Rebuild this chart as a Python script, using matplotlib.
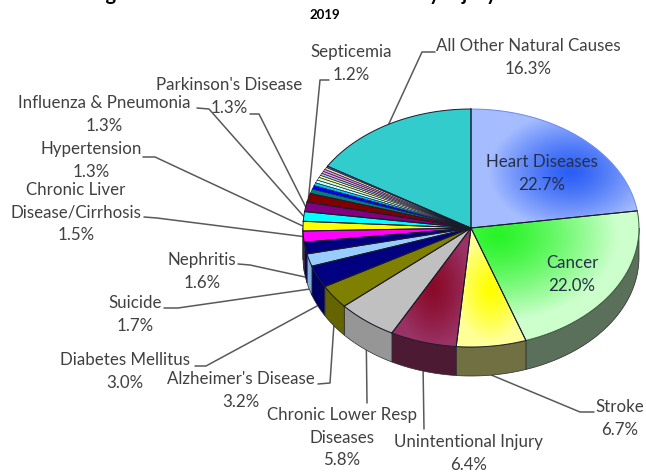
# Leading causes of death, 2019 - 3D style pie
import numpy as np
import matplotlib
matplotlib.use('Agg')
import matplotlib.pyplot as plt
from matplotlib.colors import to_rgb
from matplotlib.patches import Polygon

plt.rcParams['font.family'] = ['Lato', 'DejaVu Sans']

# values in percent, clockwise from 12 o'clock
causes = ['Heart Diseases', 'Cancer', 'Stroke', 'Unintentional Injury',
          'Chronic Lower Resp\nDiseases', "Alzheimer's Disease", 'Diabetes Mellitus',
          'Suicide', 'Nephritis', 'Chronic Liver\nDisease/Cirrhosis', 'Hypertension',
          'Influenza & Pneumonia', "Parkinson's Disease", 'Septicemia']
values = [22.7, 22.0, 6.7, 6.4, 5.8, 3.2, 3.0, 1.7, 1.6, 1.5, 1.3, 1.3, 1.3, 1.2]
small_values = [0.6, 0.5, 0.4, 0.4, 0.4, 0.3, 0.3, 0.3, 0.3, 0.3, 0.2]
other_name = 'All Other Natural Causes'
other_value = 16.3

colors = ['#a5bcff', '#ccffcc', '#ffff99', '#993366', '#c0c0c0', '#808000', '#000080',
          '#99ccff', '#000080', '#ff00ff', '#ffff00', '#00ffff', '#800080', '#800000']
small_colors = ['#008080', '#0000ff', '#00ccff', '#ccffff', '#ccffcc', '#ffff99',
                '#99ccff', '#ff99cc', '#cc99ff', '#ffcc99', '#3366ff']
other_color = '#33cccc'

# pie geometry, in pixels of the 646x474 canvas
CX, CY, RX, RY, DEPTH = 471, 228, 168, 119, 29

# gradient slices: centre colour, centre x, y, half width, half height
gradients = {0: ('#2a5ef5', 570, 172, 82, 58),
             1: ('#28f428', 497, 236, 120, 85),
             2: ('#ffff00', 490, 290, 36, 52),
             3: ('#8a0a28', 433, 288, 38, 58)}
wall_shade = {0: 0.45, 1: 0.44, 2: 0.44, 3: 0.5, 7: 0.85}
arc_color = {0: '#6d8cf5', 1: '#3c5a3c'}

# label centre x, first line y, leader elbow points
layout = {
    'Heart Diseases': (542, 162, None),
    'Cancer': (572, 263, None),
    'Stroke': (620, 407, ((594, 412), (580, 412))),
    'Unintentional Injury': (469, 442, ((424, 429),)),
    'Chronic Lower Resp\nDiseases': (342, 415, ((367, 403),)),
    "Alzheimer's Disease": (241, 379, ((318, 384), (330, 383))),
    'Diabetes Mellitus': (125, 360, ((195, 366), (206, 366))),
    'Suicide': (135, 303, ((164, 308), (178, 308))),
    'Nephritis': (202, 260, ((238, 264), (250, 265))),
    'Chronic Liver\nDisease/Cirrhosis': (76, 190, ((144, 217), (157, 218))),
    'Hypertension': (91, 149, ((143, 157), (155, 157))),
    'Influenza & Pneumonia': (104, 103, ((197, 108), (209, 109))),
    "Parkinson's Disease": (229, 85, ((250, 114), (259, 114))),
    'Septicemia': (351, 52, ((329, 80), (320, 80))),
    other_name: (528, 46, ((435, 52), (422, 52))),
}


def edge(deg):
    t = np.radians(np.atleast_1d(deg))
    return CX + RX * np.sin(t), CY - RY * np.cos(t)


def arc(a, b):
    return np.linspace(a, b, max(int(abs(b - a) * 2), 2))


def shade(color, f):
    return tuple(c * f for c in to_rgb(color))


all_values = values + small_values + [other_value]
all_colors = colors + small_colors + [other_color]
angles = np.cumsum([0] + all_values) * 3.6
angles = angles * 360 / angles[-1]

fig = plt.figure(figsize=(6.46, 4.74), dpi=100)
ax = fig.add_axes([0, 0, 1, 1])

# side wall, only where the rim faces the viewer
for i, col in enumerate(all_colors):
    a, b = max(angles[i], 90), min(angles[i + 1], 270)
    if b <= a:
        continue
    x, y = edge(arc(a, b))
    xs = np.r_[x, x[::-1]]
    ys = np.r_[y, y[::-1] + DEPTH]
    ax.add_patch(Polygon(np.c_[xs, ys], closed=True, fc=shade(col, wall_shade.get(i, 0.78)),
                         ec='#2a2a2a', lw=0.5, zorder=2))

# top face
for i, col in enumerate(all_colors):
    x, y = edge(arc(angles[i], angles[i + 1]))
    pts = np.c_[np.r_[CX, x], np.r_[CY, y]]
    poly = Polygon(pts, closed=True, fc=col, ec='none', zorder=3)
    ax.add_patch(poly)
    if i in gradients:
        inner, gx, gy, a, b = gradients[i]
        xx, yy = np.meshgrid(np.arange(300, 646), np.arange(100, 360))
        t = np.clip(np.hypot((xx - gx) / a, (yy - gy) / b), 0, 1)[..., None] ** 1.3
        img = np.array(to_rgb(inner)) * (1 - t) + np.array(to_rgb(col)) * t
        im = ax.imshow(img, extent=(299.5, 645.5, 359.5, 99.5), aspect='auto', zorder=4,
                       interpolation='bilinear')
        im.set_clip_path(poly)
    # thin slices get a finer outline so their colours still show
    thin = len(values) <= i < len(all_values) - 1
    ax.plot([x[0], CX, x[-1]], [y[0], CY, y[-1]], color='#1a1a2a', lw=0.35 if thin else 0.7, zorder=5)
    ax.plot(x, y, color=arc_color.get(i, '#1a1a2a'), lw=0.35 if thin else 0.7, zorder=5)
ax.set_xlim(0, 646)
ax.set_ylim(474, 0)
ax.axis('off')

# labels and leader lines
names = causes + [other_name]
label_values = values + [other_value]
mids = list((angles[:len(values)] + angles[1:len(values) + 1]) / 2) + [(angles[-2] + angles[-1]) / 2]
for name, val, mid in zip(names, label_values, mids):
    lx, ly, leader = layout[name]
    lines = name.split('\n') + ['%.1f%%' % val]
    for k, line in enumerate(lines):
        ax.text(lx, ly + k * 22.7, line, ha='center', va='center', fontsize=12.2,
                color='#404040' if leader else '#26304a', zorder=6)
    if leader:
        ex, ey = edge(mid)
        # rim anchor drops to the bottom of the wall on the lower part
        if 90 < mid < 262:
            ey = ey + DEPTH
        px = [p[0] for p in leader] + [ex[0]]
        py = [p[1] for p in leader] + [ey[0]]
        ax.plot(px, py, color='#595959', lw=1.1, zorder=1.5, solid_capstyle='round')

# title runs off the top of the canvas, only its descenders show
ax.text(302, 0, 'Leading Causes of Death from All Causes by Injury Status', ha='center',
        va='baseline', fontsize=14.5, fontweight='bold', color='black', clip_on=False)
ax.text(325, 15, '2019', ha='center', va='center', fontsize=9.5, fontweight='bold', color='black')

fig.savefig('out.png', dpi=100)
